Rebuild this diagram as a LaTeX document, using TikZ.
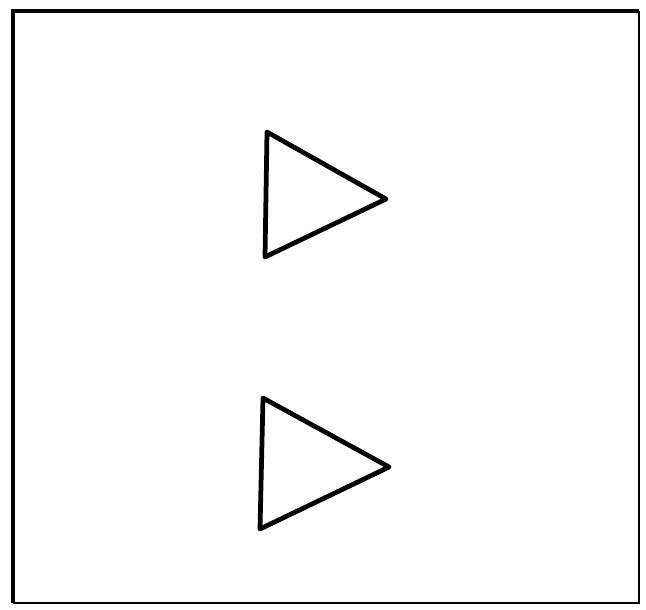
\documentclass[tikz,border=0pt]{standalone}
\begin{document}
\begin{tikzpicture}[x=0.02cm, y=-0.02cm]
    \tikzset{frameline/.style={line width=0.08cm},
             thinframe/.style={line width=0.04cm},
             tri/.style={line width=0.095cm, line join=round, line cap=round}}
    % Page size
    \useasboundingbox (0,0) rectangle (646,609);

    % Frame
    \draw[frameline] (13,603) -- (13,11) -- (639,11);
    \draw[thinframe] (639,11) -- (639,603) -- (13,603);

    % Upper triangle
    \draw[tri] (267,132) -- (386,199) -- (265,257) -- cycle;

    % Lower triangle
    \draw[tri] (263,398) -- (389,467) -- (260,529) -- cycle;
\end{tikzpicture}
\end{document}
